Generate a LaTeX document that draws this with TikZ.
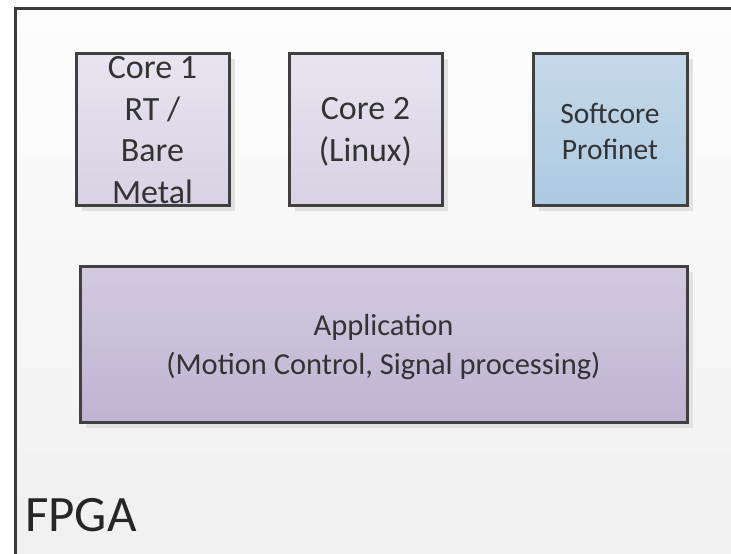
\documentclass[tikz,border=0pt]{standalone}
\usepackage{fontspec}
\setmainfont{Carlito}
\usetikzlibrary{shadows}

\definecolor{framegray}{HTML}{3C3C3C}
\definecolor{edgegray}{HTML}{404040}
\definecolor{shadowgray}{HTML}{E2E2E2}
\definecolor{textgray}{HTML}{333333}
\definecolor{bgtop}{HTML}{FDFDFD}
\definecolor{bgbottom}{HTML}{EFEFEF}
\definecolor{coretop}{HTML}{E8E4F0}
\definecolor{corebottom}{HTML}{D8D2E4}
\definecolor{softtop}{HTML}{C5D8E9}
\definecolor{softbottom}{HTML}{ADCAE1}
\definecolor{apptop}{HTML}{D2CAE0}
\definecolor{appbottom}{HTML}{BEB4D2}

\tikzset{
  blockbox/.style={draw=edgegray, line width=3pt, inner sep=0pt,
    drop shadow={shadow xshift=6pt, shadow yshift=-6pt, fill=shadowgray, opacity=1}},
  corebox/.style={blockbox, top color=coretop, bottom color=corebottom,
    minimum width=153pt, minimum height=152pt},
  softbox/.style={blockbox, top color=softtop, bottom color=softbottom,
    minimum width=154pt, minimum height=152pt},
  appbox/.style={blockbox, top color=apptop, bottom color=appbottom,
    minimum width=607pt, minimum height=156pt},
  coretext/.style={text=textgray, align=center, inner sep=0pt,
    font=\fontsize{34}{41.5}\selectfont},
  smalltext/.style={text=textgray, align=center, inner sep=0pt,
    font=\fontsize{29.5}{36}\selectfont},
  apptextstyle/.style={text=textgray, align=center, inner sep=0pt,
    font=\fontsize{30.5}{39}\selectfont},
}

\begin{document}
\begin{tikzpicture}[x=1pt, y=-1pt]
  \useasboundingbox (0,0) rectangle (731,554);
  \clip (0,0) rectangle (731,554);
  \fill[white] (0,0) rectangle (731,554);

  % FPGA frame, running off the right and bottom edges
  \draw[framegray, line width=3pt, top color=bgtop, bottom color=bgbottom]
    (15,8) rectangle (780,600);

  % processor blocks
  \node[corebox]  (core1) at (152.5,129) {};
  \node[coretext] (core1text) at ([yshift=-1pt]core1.center) {Core 1\\RT /\\Bare\\Metal};

  \node[corebox]  (core2) at (365.5,129) {};
  \node[coretext] (core2text) at ([yshift=-3pt]core2.center) {Core 2\\(Linux)};

  \node[softbox]  (soft) at (610,129) {};
  \node[smalltext] (softtext) at ([yshift=-2pt]soft.center) {Softcore\\Profinet};

  % application block
  \node[appbox]   (app) at (383.5,344) {};
  \node[apptextstyle] (apptext) at ([yshift=-3pt]app.center)
    {Application\\(Motion Control, Signal processing)};

  % frame label
  \node[anchor=base west, inner sep=0pt, text=black!85,
        font=\fontsize{51}{60}\selectfont] (fpga) at (25,531) {FPGA};
\end{tikzpicture}
\end{document}
